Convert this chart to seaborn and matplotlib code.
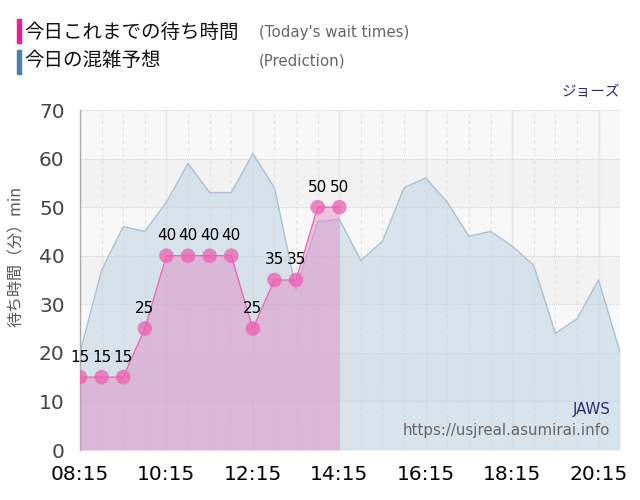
import matplotlib
matplotlib.use("Agg")
import matplotlib.pyplot as plt
import numpy as np
import pandas as pd
import seaborn as sns

# Data
wait_times = ["08:15", "08:45", "09:15", "09:45", "10:15", "10:45", "11:15",
              "11:45", "12:15", "12:45", "13:15", "13:45", "14:15"]
wait_values = [15, 15, 15, 25, 40, 40, 40, 40, 25, 35, 35, 50, 50]

pred_times = ["08:15", "08:45", "09:15", "09:45", "10:15", "10:45", "11:15",
              "11:45", "12:15", "12:45", "13:15", "13:45", "14:15", "14:45",
              "15:15", "15:45", "16:15", "16:45", "17:15", "17:45", "18:15",
              "18:45", "19:15", "19:45", "20:15", "20:45"]
pred_values = [20, 37, 46, 45, 51, 59, 53, 53, 61, 54, 33, 47, 47.5, 39,
               43, 54, 56, 51, 44, 45, 42, 38, 24, 27, 35, 20]

x_ticks = ["08:15", "10:15", "12:15", "14:15", "16:15", "18:15", "20:15"]
y_ticks = [0, 10, 20, 30, 40, 50, 60, 70]


def to_hours(t):
    h, m = t.split(":")
    return int(h) + int(m) / 60


wait_df = pd.DataFrame({"time": [to_hours(t) for t in wait_times], "wait": wait_values})
pred_df = pd.DataFrame({"time": [to_hours(t) for t in pred_times], "pred": pred_values})

sns.set_style("white")
plt.rcParams['font.family'] = ['DejaVu Sans', 'Noto Sans CJK JP']
JP = ['Noto Sans CJK JP', 'DejaVu Sans']

fig = plt.figure(figsize=(6.4, 5.0), dpi=100)
ax = fig.add_axes([0.125, 0.1, 0.844, 0.68])

# alternating background bands
for i, lo in enumerate(y_ticks[:-1]):
    ax.axhspan(lo, lo + 10, color='#f8f8f8' if i % 2 == 0 else '#f2f2f2', zorder=0, lw=0)

# prediction area
ax.fill_between(pred_df["time"], 0, pred_df["pred"], color='#c4d5e4', alpha=0.6, lw=0, zorder=2)
sns.lineplot(data=pred_df, x="time", y="pred", ax=ax, color='#a9c0d4', lw=1, zorder=3)

# today's wait times
ax.fill_between(wait_df["time"], 0, wait_df["wait"], color='#df8fc6', alpha=0.5, lw=0, zorder=4)
sns.lineplot(data=wait_df, x="time", y="wait", ax=ax, color='#ea6aae', lw=1, zorder=5)
sns.scatterplot(data=wait_df, x="time", y="wait", ax=ax, color='#ec5fb0', alpha=0.75,
                s=110, edgecolor='none', zorder=6)
for t, v in zip(wait_df["time"], wait_df["wait"]):
    ax.annotate(str(v), (t, v), xytext=(0, 9), textcoords='offset points',
                ha='center', va='bottom', fontsize=11, color='black', zorder=7)

x0, x1 = to_hours(pred_times[0]), to_hours(pred_times[-1])
ax.set_xlim(x0, x1)
ax.set_ylim(0, 70)

# grid
for t in pred_times:
    ax.axvline(to_hours(t), color='#e0e0e0', lw=0.8, ls=(0, (3, 3)), zorder=1)
for t in x_ticks:
    ax.axvline(to_hours(t), color='#e6e6e6', lw=1, zorder=1)
for v in y_ticks:
    ax.axhline(v, color='#d2d2d2', lw=0.8, ls=(0, (1, 1)), zorder=1)

ax.set_xticks([to_hours(t) for t in x_ticks])
ax.set_xticklabels(x_ticks, fontsize=14.5, color='black')
ax.set_yticks(y_ticks)
ax.set_yticklabels([str(v) for v in y_ticks], fontsize=14.5, color='#444444')
ax.tick_params(axis='both', length=9, color='#e0e0e0', width=1, pad=2)
ax.set_xlabel("")
ax.set_ylabel("")
fig.text(16 / 640, 1 - 256 / 500, "待ち時間（分）min", fontsize=11.5, color='#555555',
         family=JP, rotation=90, ha='center', va='center')

for s in ["top", "right", "bottom"]:
    ax.spines[s].set_visible(False)
ax.spines["left"].set_color('#aaaaaa')
ax.spines["left"].set_linewidth(1)

# legend block at top
fig.patches.append(plt.Rectangle((17 / 640, 1 - 43 / 500), 4 / 640, 24 / 500,
                                 transform=fig.transFigure, color='#f01d8f'))
fig.patches.append(plt.Rectangle((17 / 640, 1 - 74 / 500), 4 / 640, 24 / 500,
                                 transform=fig.transFigure, color='#4a80b0'))
fig.text(24 / 640, 1 - 32 / 500, "今日これまでの待ち時間", fontsize=14, family=JP,
         va='center', color='#111111')
fig.text(24 / 640, 1 - 61 / 500, "今日の混雑予想", fontsize=14, family=JP,
         va='center', color='#111111')
fig.text(259 / 640, 1 - 32 / 500, "(Today's wait times)", fontsize=10.8,
         va='center', color='#666666')
fig.text(259 / 640, 1 - 61 / 500, "(Prediction)", fontsize=10.8,
         va='center', color='#666666')
fig.text(620 / 640, 1 - 92 / 500, "ジョーズ", fontsize=10.5, family=JP,
         ha='right', va='center', color='#2b2b7a')

ax.text(0.982, 0.118, "JAWS", transform=ax.transAxes, ha='right', va='center',
        fontsize=10.8, color='#2b2b7a', zorder=8)
ax.text(0.982, 0.056, "https://usjreal.asumirai.info", transform=ax.transAxes,
        ha='right', va='center', fontsize=10.8, color='#666666', zorder=8)

fig.savefig("out.png", dpi=100)
